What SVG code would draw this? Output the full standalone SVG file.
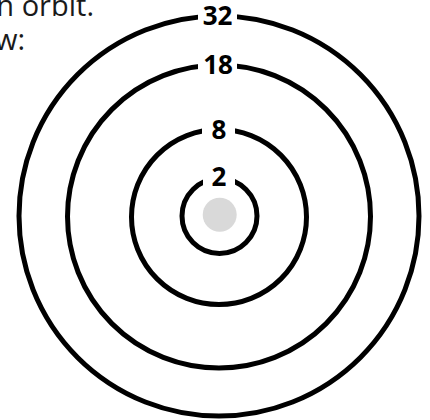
<svg xmlns="http://www.w3.org/2000/svg" width="430" height="420" viewBox="0 0 430 420">
  <style>
    .orbit { fill: none; stroke: #000; stroke-width: 5; }
    .gap { fill: #fff; stroke: none; }
    .num { font-family: "Open Sans", "Liberation Sans", sans-serif; font-weight: bold; font-size: 26px; fill: #000; text-anchor: middle; }
    .body { font-family: "Open Sans", "Liberation Sans", sans-serif; font-size: 29px; fill: #1a1a1a; text-anchor: end; }
  </style>
  <rect width="430" height="420" fill="#fff"/>
  <g id="caption">
    <text class="body" x="94" y="16">n orbit.</text>
    <text class="body" x="25" y="50">w:</text>
  </g>
  <g id="shell-32">
    <circle class="orbit" cx="219" cy="216" r="200"/>
    <rect class="gap" x="198" y="4" width="39" height="24"/>
    <text class="num" x="217.5" y="25">32</text>
  </g>
  <g id="shell-18">
    <circle class="orbit" cx="219" cy="216.5" r="151.5"/>
    <rect class="gap" x="198" y="53" width="39" height="24"/>
    <text class="num" x="218" y="73.5">18</text>
  </g>
  <g id="shell-8">
    <circle class="orbit" cx="219" cy="217" r="87.5"/>
    <rect class="gap" x="202" y="118" width="33" height="24"/>
    <text class="num" x="219" y="138.5">8</text>
  </g>
  <g id="shell-2">
    <circle class="orbit" cx="219.5" cy="216" r="37.5"/>
    <rect class="gap" x="203" y="166" width="32" height="24"/>
    <text class="num" x="219" y="185.5">2</text>
  </g>
  <g id="nucleus">
    <circle cx="219.7" cy="214.8" r="17" fill="#d9d9d9"/>
  </g>
</svg>
